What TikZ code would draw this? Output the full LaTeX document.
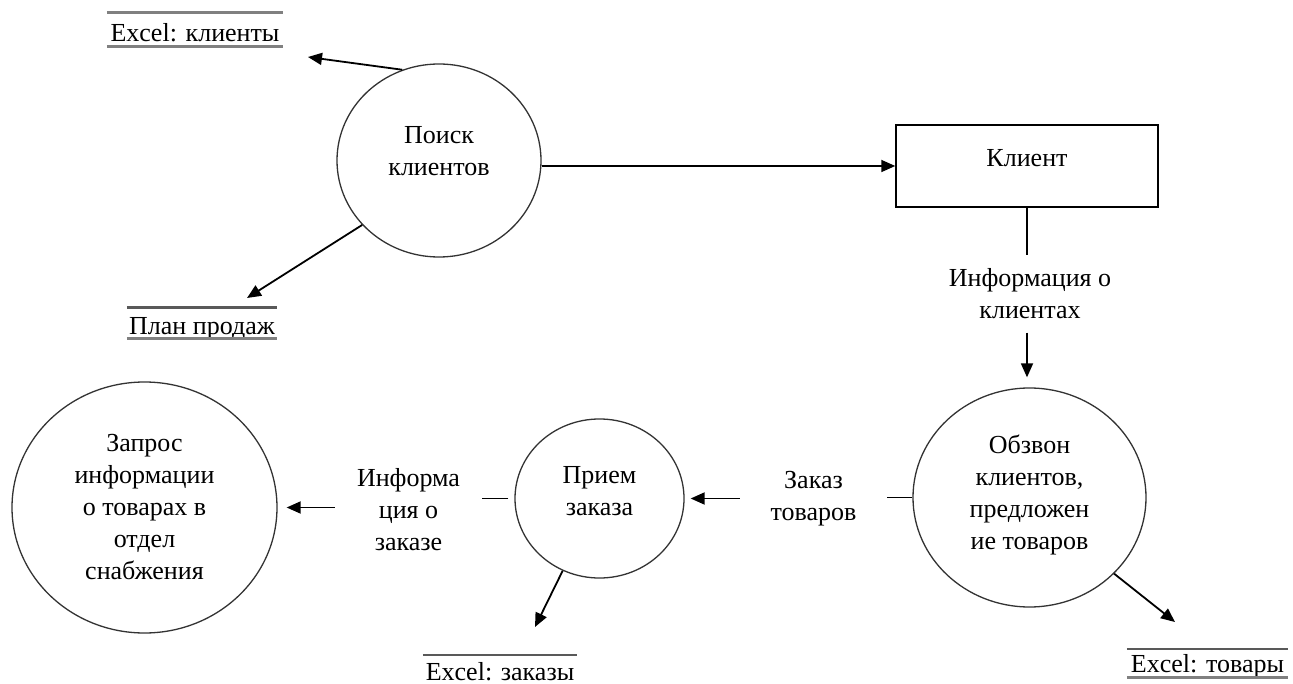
\documentclass[tikz,border=0pt]{standalone}
\usepackage{fontspec}
\setmainfont{Liberation Serif}
\usetikzlibrary{shapes.geometric,arrows.meta}
\begin{document}
\begin{tikzpicture}[x=1pt,y=-1pt,
  every node/.style={font=\fontsize{26}{32}\selectfont},
  proc/.style={ellipse,draw=black!80,line width=1.3pt,inner sep=0},
  ptext/.style={align=center,inner sep=0},
  flow/.style={draw=black,line width=1.8pt,-{Triangle[length=14pt,width=12pt]}},
  tick/.style={draw=black,line width=1.8pt},
  store/.style={inner sep=0,anchor=center},
  storetop/.style={draw=black!65,line width=2.6pt},
  storebot/.style={draw=black!50,line width=3pt},
  flowlabel/.style={align=center,inner sep=0}
]
\fill[white] (0,0) rectangle (1293,684);
\useasboundingbox (0,0) rectangle (1293,684);

% processes
\node[proc,minimum width=204pt,minimum height=193pt,
  label={[ptext,yshift=9pt]center:Поиск\\клиентов}] (poisk) at (439,160.5) {};
\node[proc,minimum width=233pt,minimum height=219pt,
  label={[ptext,yshift=3pt]center:Обзвон\\клиентов,\\предложен\\ие товаров}] (obz) at (1029.5,497.5) {};
\node[proc,minimum width=169pt,minimum height=159pt,
  label={[ptext,yshift=7.5pt]center:Прием\\заказа}] (priem) at (599.5,498.5) {};
\node[proc,minimum width=265pt,minimum height=251pt,
  label={[ptext]center:Запрос\\информации\\о товарах в\\отдел\\снабжения}] (zapros) at (144.5,507.5) {};

% external entity
\node[draw,line width=1.5pt,minimum width=262pt,minimum height=82pt,inner sep=0,
  label={[inner sep=0,yshift=8pt]center:Клиент}] (klient) at (1027,166) {};

% data stores
\node[store,minimum width=176pt,text height=29pt,text depth=4pt] (exk) at (195,29.5) {Excel: клиенты};
\draw[storebot] (exk.north west) -- (exk.north east);
\draw[storebot] (exk.south west) -- (exk.south east);

\node[store,minimum width=150pt,text height=27pt,text depth=3pt] (plan) at (202,323) {План продаж};
\draw[storetop] (plan.north west) -- (plan.north east);
\draw[storebot] (plan.south west) -- (plan.south east);

\node[store,minimum width=161pt,text height=23pt,text depth=5pt] (ext) at (1207.5,663) {Excel: товары};
\draw[storetop] (ext.north west) -- (ext.north east);
\draw[storebot] (ext.south west) -- (ext.south east);

\node[store,minimum width=154pt,text height=25pt,text depth=4pt] (exz) at (500,669.5) {Excel: заказы};
\draw[storetop] (exz.north west) -- (exz.north east);

% flow labels
\node[flowlabel,minimum height=77pt] (lab1) at (1030,294) {Информация о\\клиентах};
\node[flowlabel,minimum width=147pt] (lab2) at (813.5,498.5) {Заказ\\товаров};
\node[flowlabel,minimum width=147pt] (lab3) at (408.5,509.5) {Информа\\ция о\\заказе};

% free ends of flows into the stores
\coordinate (tipk) at (308,57);
\coordinate (tipp) at (247,298);
\coordinate (tipz) at (535,627);
\coordinate (tipt) at (1175,622);

% flows
\draw[flow] (poisk.112) -- (tipk);
\draw[flow] (poisk.220) -- (tipp);
\draw[flow] (poisk.east |- klient.west) -- (klient.west);

\draw[tick] (klient.south) -- (klient.south |- lab1.north);
\draw[flow,shorten >=10pt] (klient.south |- lab1.south) -- (klient.south |- obz.north);

\draw[tick] (obz.west) -- (obz.west -| lab2.east);
\draw[flow,shorten >=6pt] (lab2.west |- priem.east) -- (priem.east);

\draw[tick,shorten <=6pt] (priem.west) -- (priem.west -| lab3.east);
\draw[flow,shorten >=9pt] (zapros.east -| lab3.west) -- (zapros.east);

\draw[flow] (priem.243) -- (tipz);
\draw[flow] (obz.318) -- (tipt);
\end{tikzpicture}
\end{document}
